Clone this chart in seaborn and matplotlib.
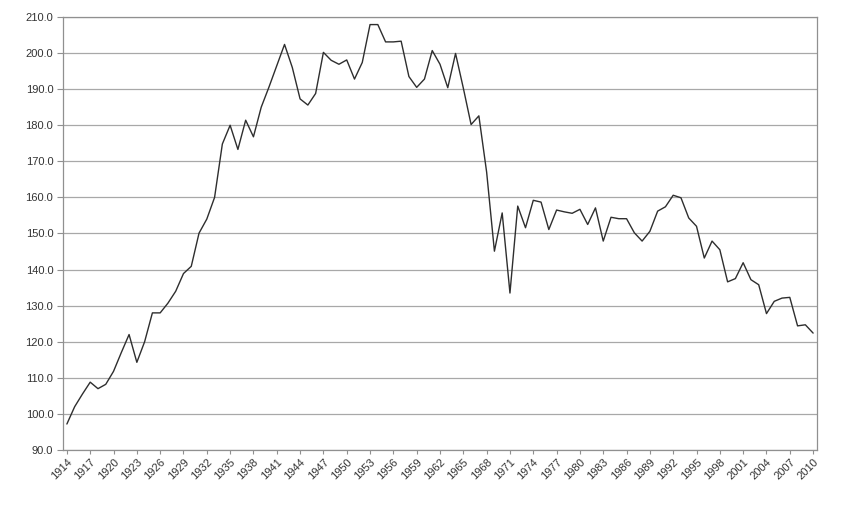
import matplotlib
matplotlib.use("Agg")
import matplotlib.pyplot as plt
import numpy as np
import pandas as pd
import seaborn as sns

# yearly series
years = list(range(1914, 2011))
values = [
    97.2, 102.0, 105.5, 108.8, 107.0, 108.2, 111.8, 117.0, 122.0, 114.3,
    120.0, 128.0, 128.0, 130.7, 134.0, 138.9, 140.9, 150.1, 154.0, 160.0,
    174.8, 180.0, 173.3, 181.4, 176.8, 185.0, 190.6, 196.5, 202.4, 196.0,
    187.3, 185.6, 188.8, 200.2, 198.0, 196.9, 198.1, 192.8, 197.4, 207.9,
    207.9, 203.1, 203.1, 203.3, 193.5, 190.5, 192.8, 200.7, 196.9, 190.4,
    199.9, 190.3, 180.2, 182.6, 167.0, 145.1, 155.7, 133.5, 157.6, 151.6,
    159.2, 158.7, 151.1, 156.5, 156.0, 155.6, 156.7, 152.5, 157.1, 147.9,
    154.5, 154.1, 154.1, 150.2, 147.9, 150.6, 156.2, 157.4, 160.6, 159.9,
    154.3, 152.0, 143.2, 147.9, 145.5, 136.6, 137.5, 141.9, 137.2, 135.8,
    127.8, 131.2, 132.1, 132.3, 124.4, 124.7, 122.4,
]
tick_years = years[::3]
y_ticks = list(range(90, 211, 10))

sns.set_theme(style="white")
plt.rcParams["font.family"] = ["Liberation Sans", "DejaVu Sans"]

df = pd.DataFrame({"year": years, "value": values})

fig = plt.figure(figsize=(8.46, 5.08), dpi=100)
ax = fig.add_axes([63 / 846, 1 - 450 / 508, (817 - 63) / 846, (450 - 17) / 508])

sns.lineplot(data=df, x="year", y="value", ax=ax, color="#2e2e2e", linewidth=1.0)

ax.set_xlim(years[0] - 0.5, years[-1] + 0.5)
ax.set_ylim(90, 210)
ax.set_yticks(y_ticks)
ax.set_yticklabels([f"{v:.1f}" for v in y_ticks], fontsize=8, color="#333333")
ax.set_xticks(tick_years)
ax.set_xticklabels([str(y) for y in tick_years], rotation=45, ha="right",
                   rotation_mode="anchor", fontsize=8, color="#333333")

ax.yaxis.grid(True, color="#a8a8a8", linewidth=0.9)
ax.xaxis.grid(False)
ax.tick_params(axis="y", length=4, width=0.8, color="#909090", pad=3, left=True)
ax.tick_params(axis="x", length=3, width=0.8, color="#909090", pad=2, bottom=True)
for side in ["left", "bottom", "right", "top"]:
    ax.spines[side].set_color("#909090")
    ax.spines[side].set_linewidth(0.9)

ax.set_xlabel("")
ax.set_ylabel("")

fig.savefig("out.png", dpi=100, facecolor="white")
